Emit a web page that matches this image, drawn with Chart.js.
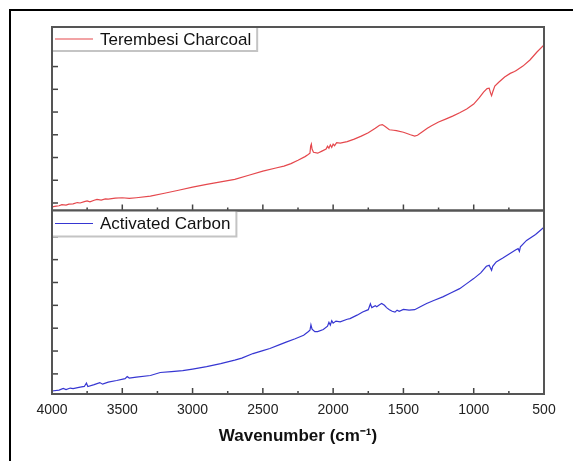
<!DOCTYPE html>
<html>
<head>
<meta charset="utf-8">
<script src="https://cdn.jsdelivr.net/npm/chart.js@4.4.1/dist/chart.umd.min.js"></script>
<style>
  html, body { margin: 0; padding: 0; background: #fff; }
  #wrap { position: relative; width: 573px; height: 461px; overflow: hidden; }
  #frame { position: absolute; left: 9px; top: 9px; width: 600px; height: 500px; border: 2px solid #000; }
  canvas { position: absolute; left: 0; top: 0; }
</style>
</head>
<body>
<div id="wrap"><div id="frame"></div><canvas id="ftir" width="573" height="461"></canvas></div>
<script>
// FTIR spectra (arbitrary units, one unit = one y tick)
const charcoalWn = [
  4000, 3970, 3950, 3930, 3900, 3880, 3850, 3820, 3800, 3770,
  3750, 3730, 3700, 3680, 3650, 3620, 3600, 3550, 3500, 3450,
  3400, 3300, 3200, 3100, 3000, 2900, 2800, 2700, 2600, 2500,
  2400, 2350, 2300, 2250, 2200, 2180, 2165, 2160, 2155, 2150,
  2140, 2110, 2080, 2050, 2040, 2030, 2020, 2010, 2000, 1990,
  1975, 1950, 1900, 1850, 1800, 1750, 1700, 1670, 1650, 1630,
  1600, 1570, 1550, 1500, 1450, 1420, 1400, 1370, 1330, 1300,
  1250, 1200, 1150, 1100, 1050, 1000, 960, 930, 905, 890,
  880, 873, 865, 850, 820, 780, 740, 710, 700, 650,
  600, 550, 500
];
const charcoalVal = [
  -0.17, -0.14, -0.12, -0.07, -0.09, -0.05, -0.04, 0.02, 0.00, 0.06,
  0.09, 0.05, 0.12, 0.16, 0.13, 0.18, 0.17, 0.21, 0.23, 0.20,
  0.23, 0.30, 0.43, 0.56, 0.70, 0.82, 0.93, 1.04, 1.22, 1.40,
  1.55, 1.62, 1.73, 1.88, 2.04, 2.12, 2.19, 2.50, 2.59, 2.37,
  2.23, 2.19, 2.28, 2.37, 2.50, 2.41, 2.56, 2.45, 2.59, 2.52,
  2.65, 2.63, 2.70, 2.81, 2.94, 3.09, 3.29, 3.42, 3.45, 3.36,
  3.22, 3.20, 3.18, 3.11, 3.00, 2.94, 2.98, 3.11, 3.29, 3.40,
  3.56, 3.69, 3.82, 3.97, 4.13, 4.35, 4.63, 4.88, 5.03, 5.05,
  4.83, 4.72, 4.88, 5.14, 5.32, 5.54, 5.70, 5.78, 5.82, 6.02,
  6.29, 6.64, 6.95
];
const carbonWn = [
  4000, 3950, 3920, 3900, 3870, 3850, 3800, 3770, 3755, 3745,
  3700, 3660, 3640, 3600, 3540, 3480, 3465, 3450, 3400, 3300,
  3230, 3150, 3070, 3000, 2900, 2800, 2700, 2650, 2570, 2500,
  2450, 2380, 2330, 2270, 2210, 2180, 2165, 2158, 2150, 2130,
  2110, 2070, 2040, 2030, 2020, 2010, 2000, 1980, 1950, 1900,
  1880, 1830, 1790, 1750, 1735, 1725, 1700, 1690, 1670, 1655,
  1635, 1620, 1600, 1580, 1560, 1545, 1530, 1500, 1460, 1420,
  1380, 1335, 1280, 1220, 1160, 1100, 1050, 1000, 950, 910,
  890, 880, 873, 865, 840, 790, 745, 700, 684, 675,
  668, 624, 560, 500
];
const carbonVal = [
  -0.75, -0.71, -0.64, -0.69, -0.62, -0.64, -0.58, -0.55, -0.40, -0.55,
  -0.47, -0.38, -0.45, -0.36, -0.29, -0.21, -0.12, -0.18, -0.14, -0.07,
  0.06, 0.10, 0.14, 0.21, 0.32, 0.45, 0.60, 0.69, 0.89, 1.02,
  1.11, 1.28, 1.40, 1.54, 1.69, 1.83, 1.91, 2.15, 1.96, 1.85,
  1.85, 1.94, 2.09, 2.26, 2.13, 2.33, 2.22, 2.31, 2.28, 2.39,
  2.42, 2.57, 2.71, 2.81, 3.07, 2.90, 2.98, 2.94, 3.03, 3.08,
  3.00, 2.90, 2.81, 2.74, 2.70, 2.79, 2.74, 2.82, 2.79, 2.81,
  2.94, 3.08, 3.22, 3.37, 3.55, 3.73, 3.95, 4.17, 4.42, 4.71,
  4.75, 4.62, 4.53, 4.71, 4.90, 5.08, 5.26, 5.43, 5.48, 5.36,
  5.56, 5.84, 6.10, 6.42
];
const topTicks = [0, 1, 2, 3, 4, 5, 6, 7];
const bottomTicks = [0, 1, 2, 3, 4, 5, 6];
const topRange = [-0.33, 7.74];     // y range of the upper panel
const bottomRange = [-0.88, 7.15];  // y range of the lower panel

const FONT = "'Liberation Sans', Arial, sans-serif";

// both panels share the chart area; each scale is stretched so its own range fills one half
const topSpan = topRange[1] - topRange[0];
const bottomSpan = bottomRange[1] - bottomRange[0];

const panels = [
  { axis: 'yTop', range: topRange, ticks: topTicks, dataset: 0, legendH: 24 },
  { axis: 'yBottom', range: bottomRange, ticks: bottomTicks, dataset: 1, legendH: 26 }
];

const line = (ctx, x1, y1, x2, y2) => {
  ctx.beginPath();
  ctx.moveTo(x1, y1);
  ctx.lineTo(x2, y2);
  ctx.stroke();
};

const panelPlugin = {
  id: 'panels',
  afterDatasetsDraw(chart) {
    const { ctx, chartArea: a, scales } = chart;
    const xs = scales.x;
    const major = xs.ticks.map(t => t.value);
    const minor = [];
    for (let i = 0; i < major.length - 1; i++) minor.push((major[i] + major[i + 1]) / 2);

    ctx.save();
    panels.forEach(p => {
      const ys = scales[p.axis];
      const top = ys.getPixelForValue(p.range[1]);
      const bottom = ys.getPixelForValue(p.range[0]);

      ctx.strokeStyle = '#444';
      ctx.lineWidth = 1.5;
      p.ticks.forEach(v => {
        const y = ys.getPixelForValue(v);
        line(ctx, a.left, y, a.left + 6, y);
      });
      major.forEach(v => {
        const x = xs.getPixelForValue(v);
        line(ctx, x, bottom, x, bottom - 6);
      });
      minor.forEach(v => {
        const x = xs.getPixelForValue(v);
        line(ctx, x, bottom, x, bottom - 3);
      });

      // legend inside the panel
      const ds = chart.data.datasets[p.dataset];
      ctx.font = '17px ' + FONT;
      const textW = ctx.measureText(ds.label).width;
      const boxW = 48 + textW + 6;
      ctx.fillStyle = '#fff';
      ctx.fillRect(a.left, top, boxW, p.legendH);
      ctx.strokeStyle = '#c4c4c4';
      ctx.lineWidth = 2;
      ctx.beginPath();
      ctx.moveTo(a.left, top + p.legendH);
      ctx.lineTo(a.left + boxW, top + p.legendH);
      ctx.lineTo(a.left + boxW, top);
      ctx.stroke();
      const cy = top + p.legendH / 2;
      ctx.strokeStyle = ds.borderColor;
      ctx.lineWidth = 1.2;
      line(ctx, a.left + 3, cy, a.left + 41, cy);
      ctx.fillStyle = '#111';
      ctx.textBaseline = 'middle';
      ctx.fillText(ds.label, a.left + 48, cy + 1);

      // panel frame
      ctx.strokeStyle = '#555';
      ctx.lineWidth = 2;
      ctx.strokeRect(a.left, top, a.right - a.left, bottom - top);
    });
    ctx.restore();
  }
};

new Chart(document.getElementById('ftir'), {
  type: 'line',
  data: {
    datasets: [
      {
        label: 'Terembesi Charcoal',
        data: charcoalWn.map((w, i) => ({ x: w, y: charcoalVal[i] })),
        yAxisID: 'yTop',
        borderColor: '#e5484d',
        borderWidth: 1.2,
        pointRadius: 0,
        tension: 0
      },
      {
        label: 'Activated Carbon',
        data: carbonWn.map((w, i) => ({ x: w, y: carbonVal[i] })),
        yAxisID: 'yBottom',
        borderColor: '#3636d2',
        borderWidth: 1.2,
        pointRadius: 0,
        tension: 0
      }
    ]
  },
  options: {
    responsive: false,
    animation: false,
    devicePixelRatio: 1,
    layout: { padding: { left: 52, right: 29, top: 27, bottom: 0 } },
    plugins: { legend: { display: false }, tooltip: { enabled: false } },
    scales: {
      x: {
        type: 'linear',
        reverse: true,
        min: 500,
        max: 4000,
        grid: { display: false, drawTicks: false },
        border: { display: false },
        ticks: {
          stepSize: 500,
          padding: 8,
          maxRotation: 0,
          autoSkip: false,
          color: '#222',
          font: { family: FONT, size: 14 },
          callback: v => String(v)
        },
        title: {
          display: true,
          text: 'Wavenumber (cm⁻¹)',
          color: '#111',
          font: { family: FONT, size: 17, weight: 'bold' },
          padding: { top: 0, bottom: 14 }
        },
        afterFit: s => { s.height = 67; }
      },
      yTop: {
        display: false,
        min: topRange[0] - topSpan,
        max: topRange[1]
      },
      yBottom: {
        display: false,
        min: bottomRange[0],
        max: bottomRange[1] + bottomSpan
      }
    }
  },
  plugins: [panelPlugin]
});
</script>
</body>
</html>
